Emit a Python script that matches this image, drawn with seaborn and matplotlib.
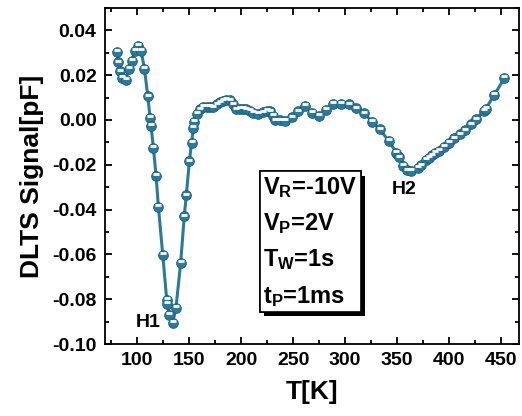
import matplotlib
matplotlib.use("Agg")
import matplotlib.pyplot as plt
import matplotlib.transforms as mtransforms
import matplotlib.patheffects as pe
from matplotlib.ticker import MultipleLocator, FuncFormatter
import seaborn as sns
import pandas as pd

sns.set_theme(style="ticks")
plt.rcParams['font.family'] = ['Liberation Sans', 'DejaVu Sans']
plt.rcParams['font.weight'] = 'bold'
plt.rcParams['mathtext.fontset'] = 'custom'
plt.rcParams['mathtext.rm'] = 'Liberation Sans:bold'
plt.rcParams['mathtext.bf'] = 'Liberation Sans:bold'
plt.rcParams['mathtext.default'] = 'bf'
for key in ['text.color', 'axes.labelcolor', 'xtick.color', 'ytick.color', 'axes.edgecolor']:
    plt.rcParams[key] = 'black'

# DLTS spectrum
temperature = [
    80.4, 82.0, 83.7, 85.6, 88.8, 92.1, 94.9, 97.6, 100.5, 103.8,
    107.0, 110.2, 112.4, 113.4, 115.6, 118.2, 120.4, 124.6, 128.4, 129.0,
    130.6, 134.2, 137.3, 141.8, 145.3, 147.2, 150.2, 152.3, 154.1, 155.0,
    157.7, 160.3, 163.5, 166.7, 169.9, 173.0, 176.3, 179.4, 182.6, 185.8,
    189.0, 192.2, 195.4, 198.6, 201.7, 205.0, 208.1, 211.3, 216.3, 221.1,
    224.9, 227.3, 230.4, 233.0, 237.5, 242.3, 248.6, 255.0, 261.5, 267.8,
    274.5, 281.5, 288.5, 295.9, 303.2, 310.8, 318.2, 326.1, 333.2, 342.1,
    349.1, 352.2, 355.8, 359.6, 363.2, 369.9, 372.8, 377.3, 380.4, 383.6,
    386.8, 390.0, 394.8, 399.6, 405.0, 410.8, 415.5, 421.3, 425.7, 433.0,
    435.3, 443.3, 453.1,
]
signal = [
    0.0303, 0.0257, 0.0217, 0.0189, 0.0178, 0.0227, 0.0263, 0.0307, 0.0330, 0.0307,
    0.0229, 0.0106, 0.0010, -0.0027, -0.0124, -0.0250, -0.0387, -0.0601, -0.0802, -0.0820,
    -0.0869, -0.0904, -0.0839, -0.0638, -0.0430, -0.0337, -0.0185, -0.0101, -0.0034, -0.0009,
    0.0028, 0.0048, 0.0060, 0.0060, 0.0058, 0.0057, 0.0069, 0.0078, 0.0085, 0.0089,
    0.0088, 0.0070, 0.0048, 0.0051, 0.0051, 0.0048, 0.0040, 0.0033, 0.0028, 0.0034,
    0.0040, 0.0038, 0.0018, -0.0001, -0.0001, -0.0004, 0.0011, 0.0038, 0.0063, 0.0033,
    0.0018, 0.0045, 0.0073, 0.0073, 0.0070, 0.0052, 0.0029, -0.0007, -0.0042, -0.0094,
    -0.0146, -0.0167, -0.0206, -0.0225, -0.0228, -0.0213, -0.0203, -0.0179, -0.0169, -0.0158,
    -0.0148, -0.0139, -0.0121, -0.0101, -0.0082, -0.0064, -0.0046, -0.0019, 0.0003, 0.0040,
    0.0051, 0.0111, 0.0187,
]

peak_labels = ['H1', 'H2']
peak_pos = [(110.5, -0.0905), (357, -0.031)]
conditions = r'V$_{R}$=-10V' + '\n' + r'V$_{P}$=2V' + '\n' + r'T$_{W}$=1s' + '\n' + r't$_{P}$=1ms'

df = pd.DataFrame({'T': temperature, 'S': signal})

blue = '#2b7a9b'
fig = plt.figure(figsize=(5.22, 4.16), dpi=100)
ax = fig.add_axes([0.201, 0.173, 0.793, 0.808])

sns.lineplot(data=df, x='T', y='S', ax=ax, color=blue, linewidth=2.2,
             marker='o', markersize=7, markerfacecolor=blue,
             markeredgecolor='#1d5d78', markeredgewidth=0.6, sort=False)
# shiny highlight on each bead
hl = mtransforms.offset_copy(ax.transData, fig=fig, x=0, y=1.2, units='points')
ax.plot(df['T'], df['S'], linestyle='none', marker='_', markersize=5,
        markeredgewidth=2.0, color='white', transform=hl, zorder=5)

ax.set_xlim(69, 467)
ax.set_ylim(-0.10, 0.05)
ax.xaxis.set_major_locator(MultipleLocator(50))
ax.xaxis.set_minor_locator(MultipleLocator(25))
ax.yaxis.set_major_locator(MultipleLocator(0.02))
ax.yaxis.set_minor_locator(MultipleLocator(0.01))
ax.yaxis.set_major_formatter(FuncFormatter(lambda v, p: f'{round(v, 4) + 0.0:.2f}'.replace('-0.00', '0.00')))
ax.tick_params(which='both', direction='in', top=True, right=True, width=1.3,
               labelsize=14, pad=6, colors='black')
ax.tick_params(which='major', length=5)
ax.tick_params(which='minor', length=3)
for lab in ax.get_xticklabels() + ax.get_yticklabels():
    lab.set_fontweight('bold')
for sp in ax.spines.values():
    sp.set_linewidth(1.3)
    sp.set_color('black')

ax.set_xlabel('T[K]', fontsize=19, fontweight='bold', labelpad=8)
ax.set_ylabel('DLTS Signal[pF]', fontsize=19, fontweight='bold', labelpad=6)

for lab, (x, y) in zip(peak_labels, peak_pos):
    ax.text(x, y, lab, fontsize=14, fontweight='bold', ha='center', va='center')

t = ax.text(0.383, 0.503, conditions, transform=ax.transAxes, fontsize=17,
            fontweight='bold', va='top', ha='left', linespacing=1.6,
            bbox=dict(boxstyle='square,pad=0.15', facecolor='white',
                      edgecolor='black', linewidth=1.2))
t.get_bbox_patch().set_path_effects([
    pe.withSimplePatchShadow(offset=(3, -3), shadow_rgbFace='black', alpha=1.0),
    pe.Normal()])

fig.savefig('out.png', dpi=100)
